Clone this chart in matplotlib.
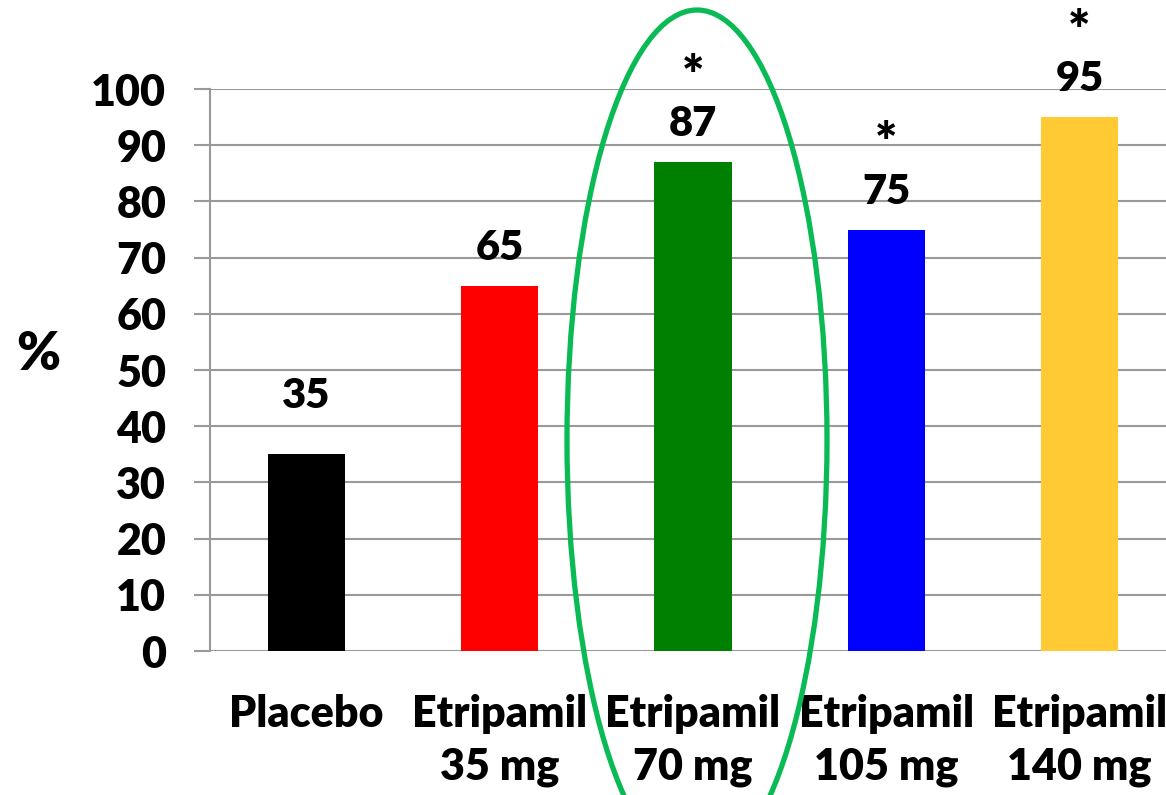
import matplotlib.pyplot as plt
from matplotlib.patches import Ellipse

groups = ["Placebo", "Etripamil\n35 mg", "Etripamil\n70 mg", "Etripamil\n105 mg", "Etripamil\n140 mg"]
rates = [35, 65, 87, 75, 95]
significant = [False, False, True, True, True]
colors = ["#000000", "#FF0000", "#008000", "#0000FF", "#FFCA33"]
y_ticks = list(range(0, 101, 10))

GRID = "#999999"
WEIGHT = "heavy"


def main():
    plt.rcParams["font.family"] = ["Lato", "DejaVu Sans"]
    plt.rcParams["font.weight"] = WEIGHT

    fig = plt.figure(figsize=(11.66, 7.95), dpi=100)
    ax = fig.add_axes([210 / 1166, 1 - 651 / 795, 966 / 1166, 562 / 795])

    x = list(range(len(groups)))
    ax.bar(x, rates, width=0.4, color=colors, zorder=3)

    for xi, v, sig in zip(x, rates, significant):
        off = 58 if xi == 0 else 38
        ax.annotate(str(v), (xi, v), xytext=(0, off * 0.72), textcoords="offset points",
                    ha="center", va="center", fontsize=30, fontweight=WEIGHT,
                    annotation_clip=False)
        if sig:
            ax.annotate("*", (xi, v), xytext=(0, (off + 46) * 0.72), textcoords="offset points",
                        ha="center", va="center", fontsize=38, fontweight=WEIGHT,
                        annotation_clip=False)

    ax.set_xlim(-0.5, 4.5)
    ax.set_ylim(0, 100)
    ax.set_yticks(y_ticks)
    ax.yaxis.grid(True, color=GRID, linewidth=1.5, zorder=0)
    ax.tick_params(axis="y", length=11.5, width=1.5, color=GRID, pad=20, labelsize=31)
    ax.set_yticklabels([str(t) for t in y_ticks], fontweight=WEIGHT)

    ax.set_xticks(x)
    ax.set_xticklabels(groups, fontsize=31, fontweight=WEIGHT, linespacing=1.38)
    ax.tick_params(axis="x", length=0, pad=31)

    for side in ["top", "right", "bottom"]:
        ax.spines[side].set_visible(False)
    ax.spines["left"].set_color(GRID)
    ax.spines["left"].set_linewidth(1.5)

    fig.text(38 / 1166, 1 - 355 / 795, "%", fontsize=38, fontweight=WEIGHT,
             ha="center", va="center")

    # highlight ring around the 70 mg group
    ring = Ellipse((697 / 1166, 1 - 440 / 795), 260 / 1166, 860 / 795,
                   transform=fig.transFigure, fill=False, edgecolor="#0ABA55",
                   linewidth=3.8, zorder=10)
    fig.add_artist(ring)

    fig.savefig("out.png", dpi=100)
    plt.close(fig)


if __name__ == "__main__":
    main()
